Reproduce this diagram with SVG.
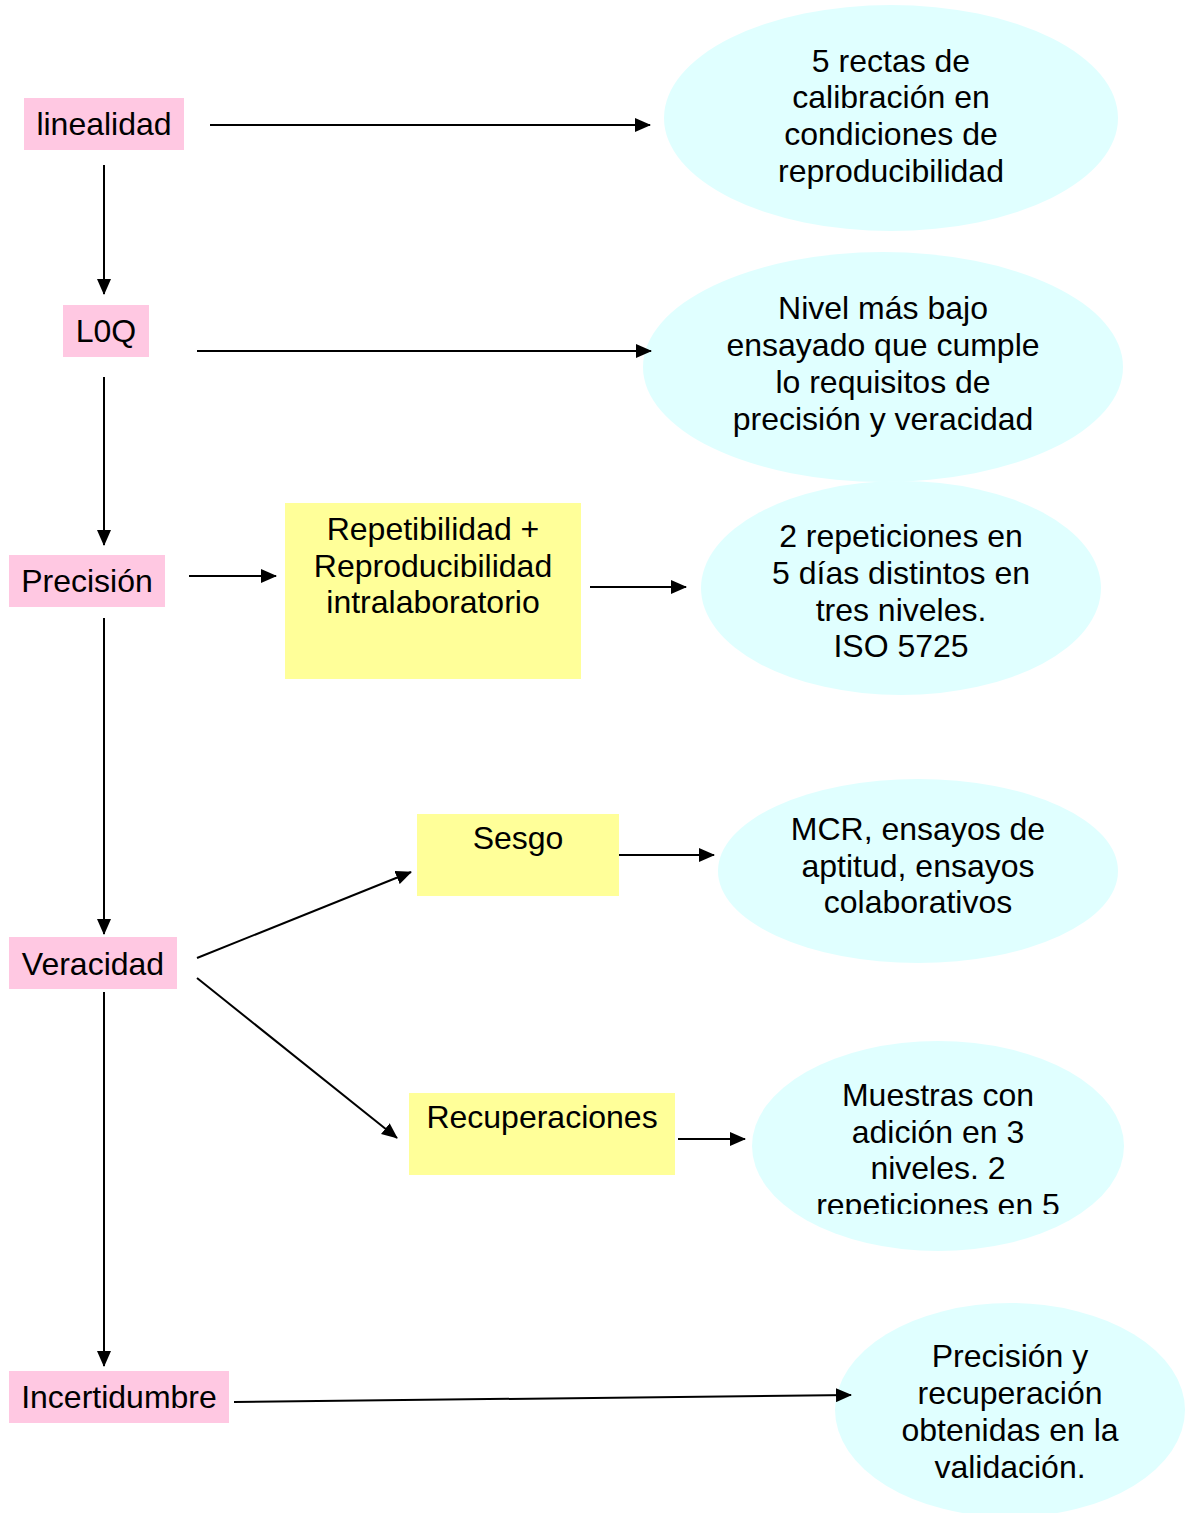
<svg xmlns="http://www.w3.org/2000/svg" width="1191" height="1513" viewBox="0 0 1191 1513">
<style>
text{font-family:"Liberation Sans",Arial,sans-serif;font-size:32px;fill:#000}
.c{text-anchor:middle}
.pink{fill:#ffc8e2}
.yel{fill:#ffff99}
.ell{fill:#e0ffff}
.ln{stroke:#000;stroke-width:2;fill:none;marker-end:url(#ah)}
</style>
<defs>
<marker id="ah" markerWidth="16" markerHeight="14" refX="15" refY="7" orient="auto" markerUnits="userSpaceOnUse">
<path d="M0,0 L16,7 L0,14 Z" fill="#000"/>
</marker>
<clipPath id="clip5"><rect x="740" y="1040" width="400" height="174"/></clipPath>
</defs>
<rect width="1191" height="1513" fill="#fff"/>
<g id="linealidad"><rect class="pink" x="24" y="98" width="160" height="52"/><text class="c" x="104" y="135">linealidad</text></g>
<g id="loq"><rect class="pink" x="63" y="305" width="86" height="52"/><text class="c" x="106" y="342">L0Q</text></g>
<g id="precision"><rect class="pink" x="9" y="555" width="156" height="52"/><text class="c" x="87" y="592">Precisión</text></g>
<g id="veracidad"><rect class="pink" x="9" y="937" width="168" height="52"/><text class="c" x="93" y="975">Veracidad</text></g>
<g id="incertidumbre"><rect class="pink" x="9" y="1371" width="220" height="52"/><text class="c" x="119" y="1408">Incertidumbre</text></g>
<g id="repetibilidad"><rect class="yel" x="285" y="503" width="296" height="176"/><text class="c" x="433" y="540">Repetibilidad +</text><text class="c" x="433" y="577">Reproducibilidad</text><text class="c" x="433" y="613">intralaboratorio</text></g>
<g id="sesgo"><rect class="yel" x="417" y="814" width="202" height="82"/><text class="c" x="518" y="849">Sesgo</text></g>
<g id="recuperaciones"><rect class="yel" x="409" y="1093" width="266" height="82"/><text class="c" x="542" y="1128">Recuperaciones</text></g>
<g id="e1"><ellipse class="ell" cx="891" cy="118" rx="227" ry="113"/><text class="c" x="891" y="72">5 rectas de</text><text class="c" x="891" y="108">calibración en</text><text class="c" x="891" y="145">condiciones de</text><text class="c" x="891" y="182">reproducibilidad</text></g>
<g id="e2"><ellipse class="ell" cx="883" cy="367" rx="240" ry="115"/><text class="c" x="883" y="319">Nivel más bajo</text><text class="c" x="883" y="356">ensayado que cumple</text><text class="c" x="883" y="393">lo requisitos de</text><text class="c" x="883" y="430">precisión y veracidad</text></g>
<g id="e3"><ellipse class="ell" cx="901" cy="588" rx="200" ry="107"/><text class="c" x="901" y="547">2 repeticiones en</text><text class="c" x="901" y="584">5 días distintos en</text><text class="c" x="901" y="621">tres niveles.</text><text class="c" x="901" y="657">ISO 5725</text></g>
<g id="e4"><ellipse class="ell" cx="918" cy="871" rx="200" ry="92"/><text class="c" x="918" y="840">MCR, ensayos de</text><text class="c" x="918" y="877">aptitud, ensayos</text><text class="c" x="918" y="913">colaborativos</text></g>
<g id="e5"><ellipse class="ell" cx="938" cy="1146" rx="186" ry="105"/><g clip-path="url(#clip5)"><text class="c" x="938" y="1106">Muestras con</text><text class="c" x="938" y="1143">adición en 3</text><text class="c" x="938" y="1179">niveles. 2</text><text class="c" x="938" y="1216">repeticiones en 5</text></g></g>
<g id="e6"><ellipse class="ell" cx="1010" cy="1410" rx="175" ry="107"/><text class="c" x="1010" y="1367">Precisión y</text><text class="c" x="1010" y="1404">recuperación</text><text class="c" x="1010" y="1441">obtenidas en la</text><text class="c" x="1010" y="1478">validación.</text></g>
<g id="connectors">
<line class="ln" x1="210" y1="125" x2="650" y2="125"/>
<line class="ln" x1="104" y1="165" x2="104" y2="294"/>
<line class="ln" x1="197" y1="351" x2="651" y2="351"/>
<line class="ln" x1="104" y1="377" x2="104" y2="545"/>
<line class="ln" x1="189" y1="576" x2="276" y2="576"/>
<line class="ln" x1="590" y1="587" x2="686" y2="587"/>
<line class="ln" x1="104" y1="618" x2="104" y2="934"/>
<line class="ln" x1="197" y1="958" x2="411" y2="872"/>
<line class="ln" x1="197" y1="978" x2="397" y2="1138"/>
<line class="ln" x1="619" y1="855" x2="714" y2="855"/>
<line class="ln" x1="678" y1="1139" x2="745" y2="1139"/>
<line class="ln" x1="104" y1="992" x2="104" y2="1366"/>
<line class="ln" x1="234" y1="1402" x2="851" y2="1395"/>
</g>
</svg>
